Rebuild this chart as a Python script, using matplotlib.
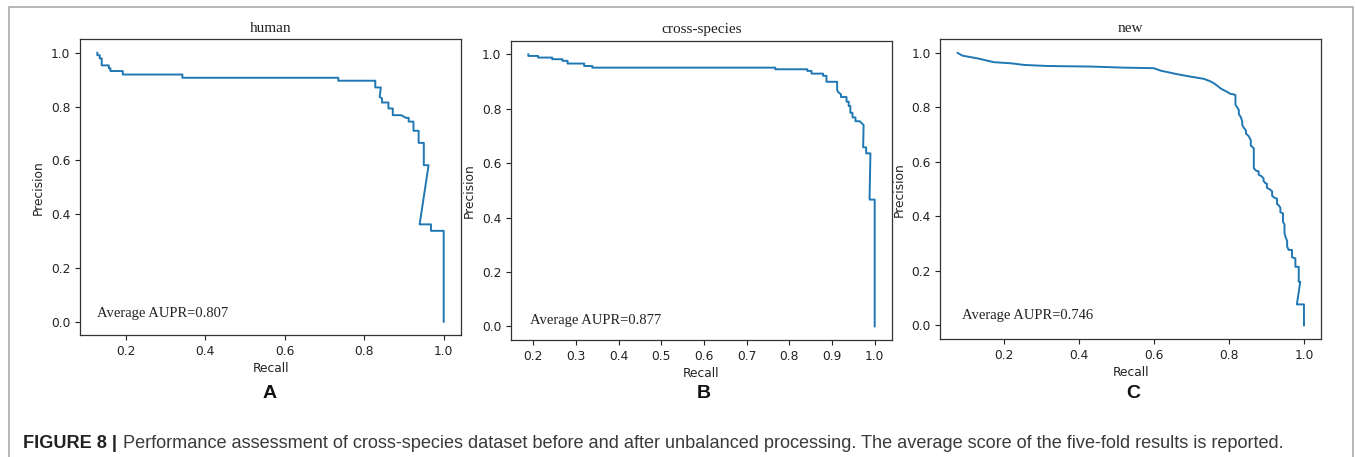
import matplotlib
matplotlib.use("Agg")
import matplotlib.pyplot as plt
from matplotlib.lines import Line2D

# ---------------- data ----------------
titles = ["human", "cross-species", "new"]
aupr_texts = ["Average AUPR=0.807", "Average AUPR=0.877", "Average AUPR=0.746"]
panel_letters = ["A", "B", "C"]
caption_bold = "FIGURE 8 |"
caption_text = ("Performance assessment of cross-species dataset before and after unbalanced "
                "processing. The average score of the five-fold results is reported.")

recall_human = [0.129, 0.129, 0.135, 0.135, 0.140, 0.140, 0.158, 0.158, 0.162, 0.162,
                0.193, 0.193, 0.343, 0.343, 0.735, 0.735, 0.828, 0.828, 0.842, 0.839,
                0.845, 0.845, 0.861, 0.861, 0.872, 0.872, 0.893, 0.905, 0.912, 0.912,
                0.924, 0.924, 0.937, 0.937, 0.950, 0.950, 0.962, 0.9395, 0.968, 0.968,
                1.0, 1.0]
precision_human = [1.0, 0.991, 0.991, 0.979, 0.979, 0.953, 0.953, 0.942, 0.942, 0.932,
                   0.932, 0.919, 0.919, 0.907, 0.907, 0.896, 0.896, 0.871, 0.871, 0.836,
                   0.830, 0.815, 0.815, 0.793, 0.793, 0.768, 0.768, 0.758, 0.758, 0.744,
                   0.744, 0.710, 0.710, 0.665, 0.665, 0.582, 0.582, 0.362, 0.362, 0.338,
                   0.338, 0.0]

recall_cross = [0.188, 0.188, 0.211, 0.211, 0.244, 0.244, 0.268, 0.268, 0.280, 0.280,
                0.319, 0.319, 0.338, 0.338, 0.767, 0.767, 0.842, 0.842, 0.852, 0.852,
                0.879, 0.879, 0.887, 0.887, 0.912, 0.912, 0.915, 0.921, 0.921, 0.934,
                0.934, 0.939, 0.939, 0.943, 0.943, 0.948, 0.948, 0.955, 0.955, 0.965,
                0.974, 0.973, 0.980, 0.980, 0.990, 0.988, 1.0, 1.0]
precision_cross = [1.0, 0.994, 0.994, 0.988, 0.988, 0.982, 0.982, 0.976, 0.976, 0.966,
                   0.966, 0.957, 0.957, 0.951, 0.951, 0.945, 0.945, 0.939, 0.939, 0.929,
                   0.929, 0.921, 0.921, 0.899, 0.899, 0.868, 0.860, 0.853, 0.843, 0.843,
                   0.826, 0.826, 0.810, 0.810, 0.785, 0.785, 0.768, 0.768, 0.754, 0.754,
                   0.740, 0.658, 0.658, 0.636, 0.636, 0.466, 0.466, 0.0]

recall_new = [0.075, 0.088, 0.128, 0.172, 0.217, 0.252, 0.315, 0.430, 0.519, 0.599,
              0.617, 0.661, 0.697, 0.732, 0.748, 0.759, 0.768, 0.777, 0.786, 0.795,
              0.803, 0.812, 0.817, 0.817, 0.822, 0.826, 0.826, 0.831, 0.835, 0.835,
              0.840, 0.845, 0.845, 0.852, 0.858, 0.858, 0.866, 0.866, 0.872, 0.879,
              0.879, 0.886, 0.892, 0.892, 0.897, 0.901, 0.901, 0.908, 0.915, 0.915,
              0.922, 0.928, 0.928, 0.933, 0.937, 0.937, 0.944, 0.944, 0.948, 0.948,
              0.952, 0.955, 0.955, 0.959, 0.968, 0.968, 0.977, 0.977, 0.986, 0.986,
              0.990, 0.981, 1.0, 1.0]
precision_new = [1.0, 0.990, 0.980, 0.966, 0.962, 0.956, 0.952, 0.950, 0.946, 0.944,
                 0.935, 0.922, 0.913, 0.905, 0.897, 0.889, 0.880, 0.870, 0.863, 0.857,
                 0.850, 0.848, 0.845, 0.809, 0.800, 0.790, 0.775, 0.765, 0.750, 0.736,
                 0.724, 0.715, 0.704, 0.695, 0.680, 0.660, 0.650, 0.577, 0.568, 0.565,
                 0.553, 0.548, 0.540, 0.530, 0.522, 0.520, 0.505, 0.500, 0.492, 0.475,
                 0.468, 0.465, 0.445, 0.440, 0.432, 0.415, 0.411, 0.380, 0.370, 0.338,
                 0.320, 0.310, 0.290, 0.277, 0.277, 0.250, 0.246, 0.215, 0.215, 0.160,
                 0.160, 0.077, 0.077, 0.0]

recalls = [recall_human, recall_cross, recall_new]
precisions = [precision_human, precision_cross, precision_new]
xticks = [[0.2, 0.4, 0.6, 0.8, 1.0],
          [0.2, 0.3, 0.4, 0.5, 0.6, 0.7, 0.8, 0.9, 1.0],
          [0.2, 0.4, 0.6, 0.8, 1.0]]
yticks = [0.0, 0.2, 0.4, 0.6, 0.8, 1.0]
text_x = [0.129, 0.192, 0.086]
text_y = [0.031, 0.022, 0.038]

# ---------------- figure ----------------
W, H = 1355, 457
fig = plt.figure(figsize=(W / 100, H / 100), dpi=100)

def px_axes(l, t, r, b):
    return [l / W, 1 - b / H, (r - l) / W, (b - t) / H]

boxes = [(80, 39.3, 461, 335.2), (511, 40.7, 892, 340), (940.3, 39.3, 1321.3, 339)]
letter_x = [270, 704, 1133]
serif = ["Liberation Serif", "DejaVu Serif"]

for i in range(3):
    ax = fig.add_axes(px_axes(*boxes[i]))
    ax.plot(recalls[i], precisions[i], color="#1f77b4", lw=1.4)
    ax.set_xticks(xticks[i])
    ax.set_yticks(yticks)
    ax.tick_params(labelsize=8.8, colors="#222222", length=3.5, width=0.8)
    ax.set_xlabel("Recall", fontsize=8.8, color="#222222", labelpad=3)
    ax.set_ylabel("Precision", fontsize=8.8, color="#222222", labelpad=4)
    ax.set_title(titles[i], family=serif, fontsize=11, color="#222222", pad=5.5)
    ax.text(text_x[i], text_y[i], aupr_texts[i], family=serif, fontsize=10.5,
            color="#222222", va="center", ha="left")
    for s in ax.spines.values():
        s.set_color("#333333")
        s.set_linewidth(0.9)
    fig.text(letter_x[i] / W, 1 - 393 / H, panel_letters[i], fontsize=14,
             fontweight="bold", family=["Liberation Sans", "DejaVu Sans"],
             ha="center", va="center", color="#111111")

# outer frame (open at the bottom)
frame = Line2D([8.5 / W, 8.5 / W, 1352.5 / W, 1352.5 / W],
               [0, 1 - 7 / H, 1 - 7 / H, 0], transform=fig.transFigure,
               color="#aaaaaa", lw=1.2)
fig.add_artist(frame)

# caption, sized so that it spans the same width as in the reference
cap_font = ["Liberation Sans", "DejaVu Sans"]
cap_left, cap_right, cap_base = 23.0, 1285.0, 448.5
size = 11.2
renderer = fig.canvas.get_renderer()
t1 = fig.text(cap_left / W, 1 - cap_base / H, caption_bold, fontsize=size,
              fontweight="bold", family=cap_font, ha="left", va="baseline",
              color="#222222")
t2 = fig.text(0, 1 - cap_base / H, caption_text, fontsize=size, family=cap_font,
              ha="left", va="baseline", color="#3a3a3a")
for _ in range(3):
    t1.set_fontsize(size)
    t2.set_fontsize(size)
    bb1 = t1.get_window_extent(renderer=renderer)
    gap = 0.35 * size * 100 / 72
    t2.set_x((bb1.x1 + gap) / W)
    bb2 = t2.get_window_extent(renderer=renderer)
    size *= (cap_right - cap_left) / (bb2.x1 - bb1.x0)

fig.savefig("out.png", dpi=100)
